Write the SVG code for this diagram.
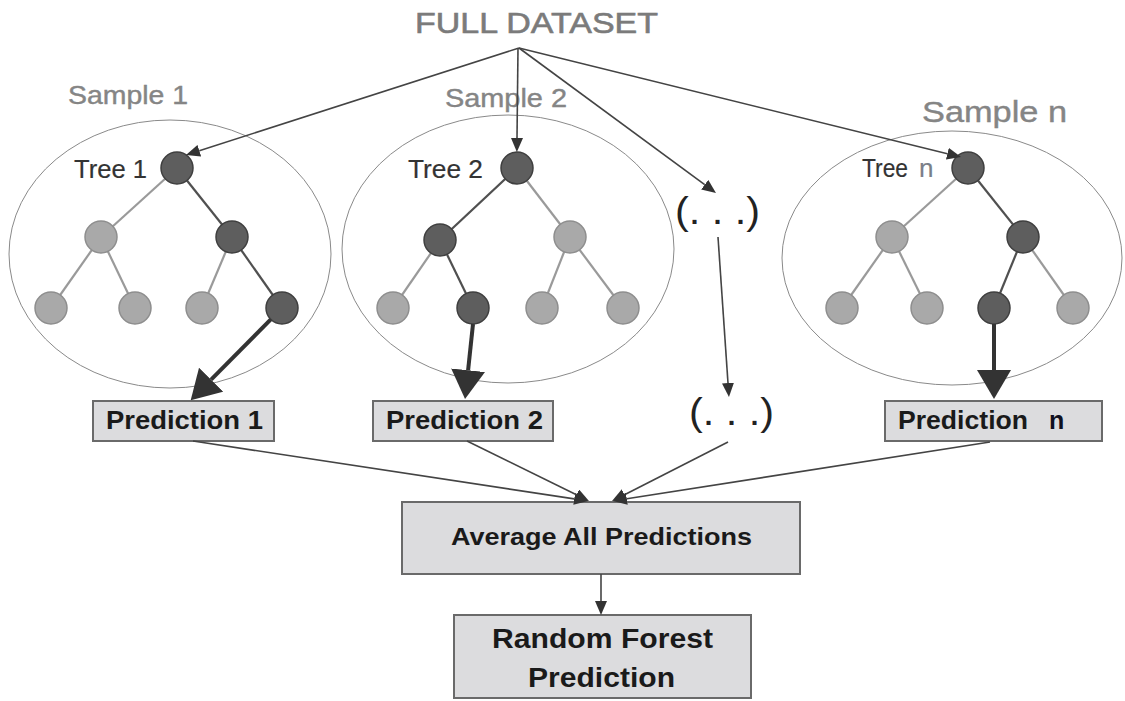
<svg xmlns="http://www.w3.org/2000/svg" width="1125" height="701" viewBox="0 0 1125 701">
<style>
  .bg{fill:#ffffff}
  .ell{fill:none;stroke:#8a8a8a;stroke-width:1}
  .dk{fill:#5e5e5e;stroke:#3f3f3f;stroke-width:1.5}
  .lt{fill:#a9a9a9;stroke:#8e8e8e;stroke-width:1.5}
  .edk{stroke:#505050;stroke-width:2.2;fill:none}
  .elt{stroke:#9a9a9a;stroke-width:2.2;fill:none}
  .box{fill:#dcdcde;stroke:#6a6a6a;stroke-width:2}
  .thin{stroke:#444444;stroke-width:1.6;fill:none;marker-end:url(#ah)}
  .thick{stroke:#333333;stroke-width:4;fill:none;marker-end:url(#ahb)}
  .sample{font-family:"Liberation Sans",Arial,sans-serif;fill:#858585;stroke:#858585;stroke-width:0.4}
  .tree{font-family:"Liberation Sans",Arial,sans-serif;font-size:26px;fill:#333333;stroke:#333333;stroke-width:0.2}
  .bold{font-family:"Liberation Sans",Arial,sans-serif;font-weight:bold;fill:#1a1a1a}
  .dots{font-family:"Liberation Sans",Arial,sans-serif;font-size:38px;fill:#222222}
</style>
<defs>
  <marker id="ah" markerUnits="userSpaceOnUse" markerWidth="14" markerHeight="12" refX="0" refY="6" orient="auto">
    <path d="M0,0 L14,6 L0,12 z" fill="#333333"/>
  </marker>
  <marker id="ahb" markerUnits="userSpaceOnUse" markerWidth="29" markerHeight="34" refX="0" refY="17" orient="auto">
    <path d="M0,0 L29,17 L0,34 z" fill="#333333"/>
  </marker>
</defs>
<rect class="bg" x="0" y="0" width="1125" height="701"/>

<g id="full-dataset">
  <text x="536.5" y="33" font-family="Liberation Sans, Arial, sans-serif" font-size="29" fill="#7b7b7b" stroke="#7b7b7b" stroke-width="0.6" text-anchor="middle" textLength="243" lengthAdjust="spacingAndGlyphs">FULL DATASET</text>
</g>

<g id="sample1">
  <ellipse class="ell" cx="170" cy="254" rx="161" ry="134"/>
  <text class="sample" x="68" y="104" font-size="25" textLength="120" lengthAdjust="spacingAndGlyphs">Sample 1</text>
  <text class="tree" x="74" y="178" textLength="73" lengthAdjust="spacingAndGlyphs">Tree 1</text>
  <line class="elt" x1="177" y1="168" x2="101" y2="237"/>
  <line class="edk" x1="177" y1="168" x2="232" y2="237"/>
  <line class="elt" x1="101" y1="237" x2="51" y2="308"/>
  <line class="elt" x1="101" y1="237" x2="135" y2="308"/>
  <line class="elt" x1="232" y1="237" x2="202" y2="308"/>
  <line class="edk" x1="232" y1="237" x2="282" y2="308"/>
  <circle class="dk" cx="177" cy="168" r="16"/>
  <circle class="lt" cx="101" cy="237" r="16"/>
  <circle class="dk" cx="232" cy="237" r="16"/>
  <circle class="lt" cx="51" cy="308" r="16"/>
  <circle class="lt" cx="135" cy="308" r="16"/>
  <circle class="lt" cx="202" cy="308" r="16"/>
  <circle class="dk" cx="282" cy="308" r="16"/>
</g>

<g id="sample2">
  <ellipse class="ell" cx="508" cy="249" rx="166" ry="134"/>
  <text class="sample" x="445" y="107" font-size="25" textLength="122" lengthAdjust="spacingAndGlyphs">Sample 2</text>
  <text class="tree" x="408" y="178" textLength="75" lengthAdjust="spacingAndGlyphs">Tree 2</text>
  <line class="edk" x1="517" y1="168" x2="440" y2="240"/>
  <line class="elt" x1="517" y1="168" x2="570" y2="237"/>
  <line class="elt" x1="440" y1="240" x2="393" y2="308"/>
  <line class="edk" x1="440" y1="240" x2="473" y2="308"/>
  <line class="elt" x1="570" y1="237" x2="542" y2="308"/>
  <line class="elt" x1="570" y1="237" x2="623" y2="308"/>
  <circle class="dk" cx="517" cy="168" r="16"/>
  <circle class="dk" cx="440" cy="240" r="16"/>
  <circle class="lt" cx="570" cy="237" r="16"/>
  <circle class="lt" cx="393" cy="308" r="16"/>
  <circle class="dk" cx="473" cy="308" r="16"/>
  <circle class="lt" cx="542" cy="308" r="16"/>
  <circle class="lt" cx="623" cy="308" r="16"/>
</g>

<g id="samplen">
  <ellipse class="ell" cx="952" cy="258" rx="170" ry="127"/>
  <text class="sample" x="922" y="122" font-size="29" stroke-width="0.9" textLength="145" lengthAdjust="spacingAndGlyphs">Sample n</text>
  <text class="tree" x="862" y="177"><tspan textLength="46" lengthAdjust="spacingAndGlyphs">Tree</tspan><tspan x="919" fill="#7a7f88" stroke="#7a7f88">n</tspan></text>
  <line class="elt" x1="968" y1="168" x2="892" y2="237"/>
  <line class="edk" x1="968" y1="168" x2="1023" y2="237"/>
  <line class="elt" x1="892" y1="237" x2="842" y2="308"/>
  <line class="elt" x1="892" y1="237" x2="927" y2="308"/>
  <line class="edk" x1="1023" y1="237" x2="994" y2="308"/>
  <line class="elt" x1="1023" y1="237" x2="1073" y2="308"/>
  <circle class="dk" cx="968" cy="168" r="16"/>
  <circle class="lt" cx="892" cy="237" r="16"/>
  <circle class="dk" cx="1023" cy="237" r="16"/>
  <circle class="lt" cx="842" cy="308" r="16"/>
  <circle class="lt" cx="927" cy="308" r="16"/>
  <circle class="dk" cx="994" cy="308" r="16"/>
  <circle class="lt" cx="1073" cy="308" r="16"/>
</g>

<g id="dots-top">
  <text class="dots" x="675" y="224" textLength="85" lengthAdjust="spacingAndGlyphs">(. . .)</text>
</g>
<g id="dots-bottom">
  <text class="dots" x="689" y="425" textLength="85" lengthAdjust="spacingAndGlyphs">(. . .)</text>
</g>

<g id="prediction1">
  <rect class="box" x="93" y="401" width="181" height="40"/>
  <text class="bold" x="106" y="429" font-size="25" textLength="157" lengthAdjust="spacingAndGlyphs">Prediction 1</text>
</g>
<g id="prediction2">
  <rect class="box" x="373" y="401" width="180" height="40"/>
  <text class="bold" x="386" y="429" font-size="25" textLength="157" lengthAdjust="spacingAndGlyphs">Prediction 2</text>
</g>
<g id="predictionn">
  <rect class="box" x="885" y="401" width="217" height="40"/>
  <text class="bold" x="898" y="429" font-size="25"><tspan textLength="130" lengthAdjust="spacingAndGlyphs">Prediction</tspan><tspan x="1049" fill="#101020">n</tspan></text>
</g>

<g id="average">
  <rect class="box" x="402" y="502" width="398" height="72"/>
  <text class="bold" x="601.5" y="545" font-size="24" text-anchor="middle" textLength="301" lengthAdjust="spacingAndGlyphs">Average All Predictions</text>
</g>

<g id="random-forest">
  <rect class="box" x="454" y="615" width="297" height="83"/>
  <text class="bold" x="602.5" y="648" font-size="27" text-anchor="middle" textLength="221" lengthAdjust="spacingAndGlyphs">Random Forest</text>
  <text class="bold" x="601.5" y="687" font-size="27" text-anchor="middle" textLength="147" lengthAdjust="spacingAndGlyphs">Prediction</text>
</g>

<g id="connectors">
  <line class="thin" x1="519" y1="48" x2="199.3" y2="150.7"/>
  <line class="thin" x1="518" y1="48" x2="517" y2="138"/>
  <line class="thin" x1="519" y1="48" x2="704.7" y2="184.7"/>
  <line class="thin" x1="519" y1="48" x2="947.4" y2="153.7"/>
  <line class="thin" x1="718" y1="237" x2="728" y2="383"/>
  <line class="thick" x1="270.8" y1="319.4" x2="211.1" y2="379.7"/>
  <line class="thick" x1="473" y1="324" x2="468.1" y2="370.2"/>
  <line class="thick" x1="994" y1="324" x2="994" y2="370"/>
  <line class="thin" x1="193" y1="441" x2="574.2" y2="498.9"/>
  <line class="thin" x1="467" y1="441" x2="576.4" y2="494.8"/>
  <line class="thin" x1="728" y1="442" x2="624.5" y2="494.7"/>
  <line class="thin" x1="990" y1="442" x2="626.8" y2="498.8"/>
  <line class="thin" x1="601" y1="574" x2="601" y2="601"/>
</g>
</svg>
